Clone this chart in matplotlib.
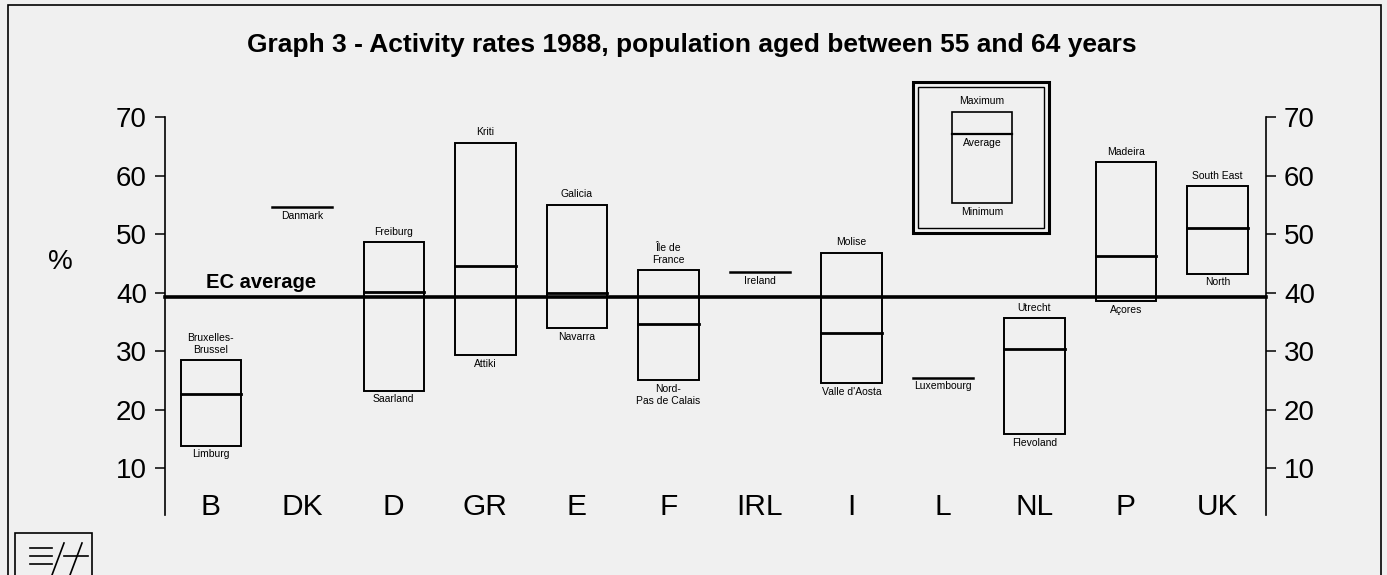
import matplotlib
matplotlib.use("Agg")
import matplotlib.pyplot as plt
from matplotlib.patches import Rectangle
from matplotlib.lines import Line2D

countries = ["B", "DK", "D", "GR", "E", "F", "IRL", "I", "L", "NL", "P", "UK"]
maximum = [28.5, 54.6, 48.6, 65.6, 55.0, 43.8, 43.5, 46.8, 25.4, 35.6, 62.3, 58.2]
average = [22.6, 54.6, 40.1, 44.5, 39.9, 34.6, 43.5, 33.1, 25.4, 30.3, 46.2, 51.0]
minimum = [13.8, 54.6, 23.2, 29.3, 33.9, 25.0, 43.5, 24.5, 25.4, 15.8, 38.5, 43.2]
max_region = ["Bruxelles-\nBrussel", "", "Freiburg", "Kriti", "Galicia", "Île de\nFrance",
              "", "Molise", "", "Utrecht", "Madeira", "South East"]
min_region = ["Limburg", "Danmark", "Saarland", "Attiki", "Navarra", "Nord-\nPas de Calais",
              "Ireland", "Valle d'Aosta", "Luxembourg", "Flevoland", "Açores", "North"]
ec_average = 39.3
yticks = [10, 20, 30, 40, 50, 60, 70]

plt.rcParams['font.family'] = ['Liberation Sans', 'DejaVu Sans']
W, H = 1387, 575
fig = plt.figure(figsize=(W / 100, H / 100), dpi=100)
bg = "#f0f0f0"
fig.patch.set_facecolor(bg)

L, R, T, B = 165, 1266, 117, 515
ax = fig.add_axes([L / W, 1 - B / H, (R - L) / W, (B - T) / H])
ax.set_facecolor(bg)
ax.set_xlim(-0.5, 11.53)
ax.set_ylim(1.97, 70)
for s in ["top", "bottom"]:
    ax.spines[s].set_visible(False)
for s in ["left", "right"]:
    ax.spines[s].set_linewidth(1.2)
ax.set_xticks([])
ax.set_yticks(yticks)
ax.set_yticklabels([str(v) for v in yticks])
ax.tick_params(axis="y", left=True, right=True, labelleft=True, labelright=True,
               direction="out", length=7, width=1.1, labelsize=20, pad=6)

bw = 0.66
for i, c in enumerate(countries):
    lo, av, hi = minimum[i], average[i], maximum[i]
    if hi - lo > 0.5:
        ax.add_patch(Rectangle((i - bw / 2, lo), bw, hi - lo, fill=False,
                               edgecolor="black", linewidth=1.4, zorder=3))
        ax.plot([i - bw / 2, i + bw / 2], [av, av], color="black", lw=2.0, zorder=4)
    else:
        ax.plot([i - bw / 2, i + bw / 2], [av, av], color="black", lw=1.8, zorder=4)
    if max_region[i]:
        ax.text(i, hi + 0.9, max_region[i], ha="center", va="bottom", fontsize=7.5,
                linespacing=1.25)
    if min_region[i]:
        ax.text(i, lo - 0.6, min_region[i], ha="center", va="top", fontsize=7.5,
                linespacing=1.25)
    ax.text(i, 3.4, c, ha="center", va="center", fontsize=21.5)

ax.plot([-0.5, 11.53], [ec_average, ec_average], color="black", lw=2.6, zorder=5,
        clip_on=False)
ax.text(-0.05, ec_average + 0.8, "EC average", ha="left", va="bottom", fontsize=14.5,
        fontweight="bold")

fig.text(692 / W, 1 - 45 / H, "Graph 3 - Activity rates 1988, population aged between 55 and 64 years",
         ha="center", va="center", fontsize=19, fontweight="bold")
fig.text(60 / W, 1 - 262 / H, "%", ha="center", va="center", fontsize=20)

def fx(x):
    return x / W

def fy(y):
    return 1 - y / H

def frect(x0, y0, x1, y1, lw):
    fig.add_artist(Rectangle((fx(x0), fy(y1)), fx(x1) - fx(x0), fy(y0) - fy(y1),
                             transform=fig.transFigure, fill=False, edgecolor="black",
                             linewidth=lw))

# legend key
frect(913, 82, 1049, 233, 2.2)
frect(918, 87, 1044, 228, 1.0)
frect(952, 112, 1012, 203, 1.2)
fig.add_artist(Line2D([fx(952), fx(1012)], [fy(134), fy(134)], transform=fig.transFigure,
                      color="black", lw=1.6))
fig.text(fx(982), fy(101), "Maximum", ha="center", va="center", fontsize=7.5)
fig.text(fx(982), fy(143), "Average", ha="center", va="center", fontsize=7.5)
fig.text(fx(982), fy(212), "Minimum", ha="center", va="center", fontsize=7.5)

# outer frame
fig.add_artist(Rectangle((fx(8), fy(600)), fx(1381) - fx(8), fy(5) - fy(600),
                         transform=fig.transFigure, fill=False, edgecolor="black", linewidth=1.2))

# logo
frect(15, 533, 92, 590, 1.2)
for yy in (548, 556, 564):
    fig.add_artist(Line2D([fx(30), fx(52)], [fy(yy), fy(yy)], transform=fig.transFigure,
                          color="black", lw=1.2))
fig.add_artist(Line2D([fx(52), fx(64)], [fy(575), fy(543)], transform=fig.transFigure,
                      color="black", lw=1.2))
fig.add_artist(Line2D([fx(64), fx(88)], [fy(556), fy(556)], transform=fig.transFigure,
                      color="black", lw=1.2))
fig.add_artist(Line2D([fx(70), fx(82)], [fy(575), fy(543)], transform=fig.transFigure,
                      color="black", lw=1.2))

fig.savefig("out.png", dpi=100, facecolor=bg)
